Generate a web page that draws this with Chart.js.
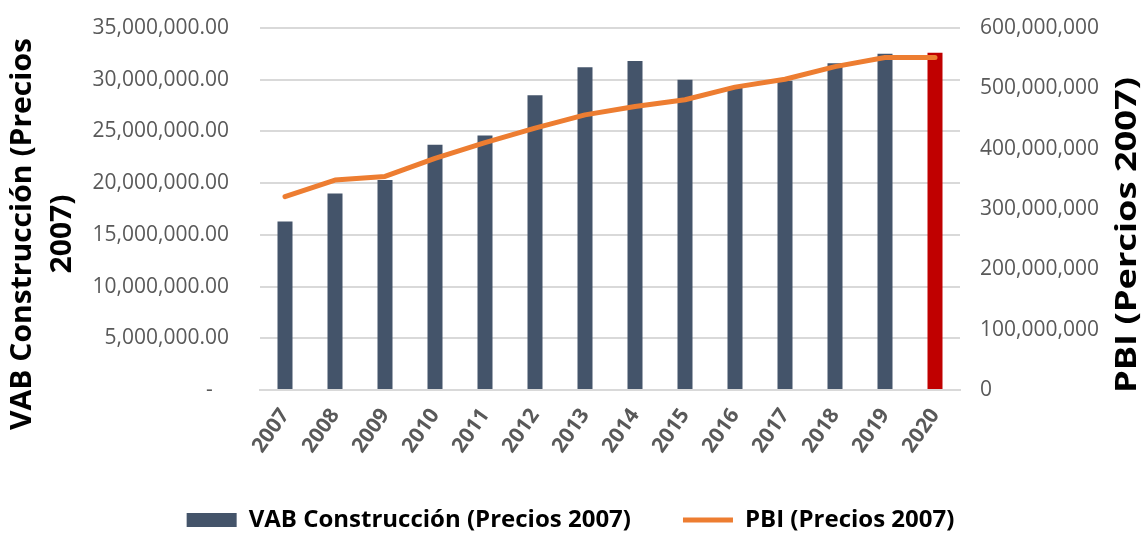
<!DOCTYPE html>
<html>
<head>
<meta charset="utf-8">
<script src="https://cdn.jsdelivr.net/npm/chart.js@4.4.1/dist/chart.umd.min.js"></script>
<style>
    html, body { margin: 0; padding: 0; background: #fff; }
    #wrap { width: 1141px; height: 534px; }
</style>
</head>
<body>
<div id="wrap"><canvas id="vabChart"></canvas></div>
<script>
// Data
const years = ['2007', '2008', '2009', '2010', '2011', '2012', '2013', '2014', '2015', '2016', '2017', '2018', '2019', '2020'];
const vabValues = [16300000, 19000000, 20300000, 23700000, 24600000, 28500000, 31200000, 31800000, 30000000, 29200000, 29900000, 31600000, 32500000, 32600000];
const pbiValues = [320500000, 348000000, 354000000, 384000000, 410000000, 434000000, 456000000, 470000000, 481000000, 502000000, 515000000, 536000000, 551000000, 551000000];
const highlightYear = '2020';

const barColors = years.map(y => y === highlightYear ? '#C00000' : '#44546A');

// Draw the two rotated axis titles
function drawVertical(ctx, lines, x, y, gap, length, font) {
    ctx.save();
    ctx.translate(x, y);
    ctx.rotate(-Math.PI / 2);
    ctx.font = font;
    const s = length / ctx.measureText(lines[0]).width;
    ctx.scale(s, 1);
    ctx.fillStyle = '#000';
    ctx.textAlign = 'center';
    ctx.textBaseline = 'middle';
    lines.forEach((t, i) => ctx.fillText(t, 0, i * gap));
    ctx.restore();
}

const axisTitles = {
    id: 'axisTitles',
    afterDraw(chart) {
        const ctx = chart.ctx;
        drawVertical(ctx, ['VAB Construcción (Precios', '2007)'], 23, 234, 40, 392, 'bold 28px "Open Sans"');
        drawVertical(ctx, ['PBI (Percios 2007)'], 1128, 235, 0, 316, 'bold 28px "Open Sans"');
    }
};

const tickFont = { family: 'Open Sans', size: 21 };

new Chart(document.getElementById('vabChart'), {
    data: {
        labels: years,
        datasets: [{
            type: 'line',
            label: 'PBI (Precios 2007)',
            data: pbiValues,
            yAxisID: 'y1',
            borderColor: '#ED7D31',
            backgroundColor: '#ED7D31',
            borderWidth: 5,
            borderCapStyle: 'round',
            borderJoinStyle: 'round',
            pointRadius: 0,
            tension: 0,
            pointStyle: 'line'
        }, {
            type: 'bar',
            label: 'VAB Construcción (Precios 2007)',
            data: vabValues,
            yAxisID: 'y',
            backgroundColor: barColors,
            barPercentage: 0.3,
            categoryPercentage: 1,
            pointStyle: 'rect'
        }]
    },
    options: {
        responsive: true,
        maintainAspectRatio: false,
        animation: false,
        layout: { padding: { top: 28, left: 0, right: 0, bottom: -8 } },
        plugins: {
            tooltip: { enabled: false },
            legend: {
                position: 'bottom',
                reverse: true,
                labels: {
                    usePointStyle: true,
                    pointStyleWidth: 50,
                    boxHeight: 14,
                    padding: 52,
                    color: '#000',
                    font: { family: 'Open Sans', size: 24, weight: 'bold' }
                }
            }
        },
        scales: {
            x: {
                grid: { display: false },
                border: { display: true, color: '#D9D9D9', width: 2 },
                ticks: {
                    color: '#595959',
                    font: { family: 'Open Sans', size: 21, weight: 'bold' },
                    minRotation: 55,
                    maxRotation: 55,
                    padding: 6
                },
                afterFit: scale => { scale.height = 66; }
            },
            y: {
                position: 'left',
                min: 0,
                max: 35000000,
                ticks: {
                    stepSize: 5000000,
                    color: '#595959',
                    font: tickFont,
                    padding: 3,
                    callback: v => v === 0 ? '-   ' : v.toLocaleString('en-US', { minimumFractionDigits: 2 })
                },
                grid: { color: '#D9D9D9', lineWidth: 2, drawTicks: true, tickLength: 28, tickColor: 'transparent' },
                border: { display: false },
                afterFit: scale => { scale.width = 260; }
            },
            y1: {
                position: 'right',
                min: 0,
                max: 600000000,
                ticks: {
                    stepSize: 100000000,
                    color: '#595959',
                    font: tickFont,
                    padding: 3,
                    callback: v => v.toLocaleString('en-US')
                },
                grid: { color: 'transparent', drawOnChartArea: false, drawTicks: true, tickLength: 17 },
                border: { display: false },
                afterFit: scale => { scale.width = 181; }
            }
        }
    },
    plugins: [axisTitles]
});
</script>
</body>
</html>
